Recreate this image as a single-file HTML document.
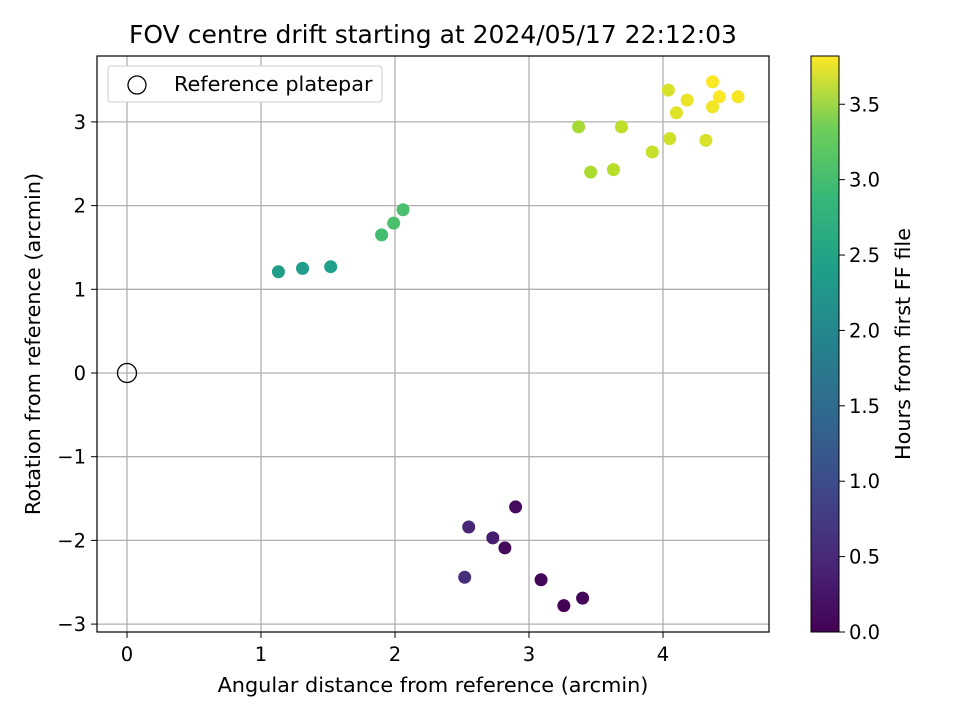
<!DOCTYPE html>
<html><head><meta charset="utf-8"><style>
body{margin:0;background:#fff;font-family:"Liberation Sans","DejaVu Sans",sans-serif}
svg text{font-family:"DejaVu Sans","Liberation Sans",sans-serif;fill:#000}
</style></head><body>
<svg id="chart" width="960" height="720" viewBox="0 0 960 720" xmlns="http://www.w3.org/2000/svg">
<defs><linearGradient id="vir" x1="0" y1="1" x2="0" y2="0">
<stop offset="0" stop-color="#440154"/><stop offset="0.125" stop-color="#482878"/><stop offset="0.25" stop-color="#3e4989"/><stop offset="0.375" stop-color="#31688e"/><stop offset="0.5" stop-color="#26828e"/><stop offset="0.625" stop-color="#1f9e89"/><stop offset="0.75" stop-color="#35b779"/><stop offset="0.875" stop-color="#6ece58"/><stop offset="1" stop-color="#fde725"/>
</linearGradient></defs>
<text x="433" y="43" font-size="25" text-anchor="middle">FOV centre drift starting at 2024/05/17 22:12:03</text>
<g id="grid"></g><g id="ticks"></g><g id="pts"></g>
<rect x="97" y="56" width="672" height="576" fill="none" stroke="#000" stroke-width="1.2"/>
<text x="433" y="692" font-size="20.8" text-anchor="middle">Angular distance from reference (arcmin)</text>
<text transform="translate(40,344) rotate(-90)" font-size="20.8" text-anchor="middle">Rotation from reference (arcmin)</text>
<g>
<rect x="108" y="66" width="274" height="36" rx="3" fill="#fff" stroke="#ccc"/>
<circle cx="137" cy="85" r="9" fill="none" stroke="#000" stroke-width="1.3"/>
<text x="174" y="91" font-size="20.8">Reference platepar</text>
</g>
<rect x="811" y="56" width="28" height="576" fill="url(#vir)" stroke="#000" stroke-width="1"/>
<g id="cbt"></g>
<text transform="translate(910,344) rotate(-90)" font-size="20.8" text-anchor="middle">Hours from first FF file</text>
</svg>
<script>
const xs=[2.90,2.55,2.73,2.82,2.52,3.09,3.40,3.26,1.13,1.31,1.52,1.90,1.99,2.06,3.37,3.46,3.63,3.69,3.92,4.04,4.05,4.10,4.18,4.32,4.37,4.37,4.42,4.56];
const ys=[-1.60,-1.84,-1.97,-2.09,-2.44,-2.47,-2.69,-2.78,1.21,1.25,1.27,1.65,1.79,1.95,2.94,2.40,2.43,2.94,2.64,3.38,2.80,3.11,3.26,2.78,3.48,3.18,3.30,3.30];
const hours=[0.1,0.4,0.3,0.1,0.5,0.05,0.05,0.0,2.1,2.1,2.15,2.65,2.7,2.7,3.3,3.35,3.4,3.45,3.5,3.6,3.55,3.65,3.7,3.6,3.8,3.75,3.8,3.78];
const xTicks=[0,1,2,3,4];
const yTicks=[-3,-2,-1,0,1,2,3];
const cTicks=[0,0.5,1.0,1.5,2.0,2.5,3.0,3.5];
const cMax=3.82;
const X=v=>127+v*134, Y=v=>373-v*83.7, C=v=>632-v*(576/cMax);
const vir=[[68,1,84],[72,40,120],[62,73,137],[49,104,142],[38,130,142],[31,158,137],[53,183,121],[110,206,88],[181,222,43],[253,231,37]];
function col(h){let t=Math.max(0,Math.min(1,h/cMax))*(vir.length-1);let i=Math.min(Math.floor(t),vir.length-2),f=t-i;
return 'rgb('+vir[i].map((c,k)=>Math.round(c+(vir[i+1][k]-c)*f)).join(',')+')';}
const NS='http://www.w3.org/2000/svg';
function mk(p,tag,a){const e=document.createElementNS(NS,tag);for(const k in a)e.setAttribute(k,a[k]);p.appendChild(e);return e;}
const g=document.getElementById('grid'),tk=document.getElementById('ticks'),pts=document.getElementById('pts'),cb=document.getElementById('cbt');
const fmt=v=>(v<0?'\u2212':'')+Math.abs(v);
xTicks.forEach(v=>{const x=X(v);
let l=mk(g,'line',{x1:x,x2:x,y1:56,y2:632,stroke:'#b0b0b0','stroke-width':1.3});

mk(tk,'line',{x1:x,x2:x,y1:632,y2:638,stroke:'#000'});
let t=mk(tk,'text',{x:x,y:661,'font-size':19.5,'text-anchor':'middle'});t.textContent=fmt(v);
});
yTicks.forEach(v=>{const y=Y(v);
let l=mk(g,'line',{x1:97,x2:769,y1:y,y2:y,stroke:'#b0b0b0','stroke-width':1.3});

mk(tk,'line',{x1:91,x2:97,y1:y,y2:y,stroke:'#000'});
let t=mk(tk,'text',{x:86,y:y+7,'font-size':19.5,'text-anchor':'end'});t.textContent=fmt(v);
});
cTicks.forEach(v=>{const y=C(v);
mk(cb,'line',{x1:839,x2:845,y1:y,y2:y,stroke:'#000'});
let t=mk(cb,'text',{x:849,y:y+7,'font-size':19.5});t.textContent=v.toFixed(1);
});
let r=mk(pts,'circle',{cx:X(0),cy:Y(0),r:9.5,fill:'none',stroke:'#000','stroke-width':1.3});

xs.forEach((v,i)=>{let c=mk(pts,'circle',{cx:X(v),cy:Y(ys[i]),r:6.5,fill:col(hours[i])});
});
</script>
</body></html>
